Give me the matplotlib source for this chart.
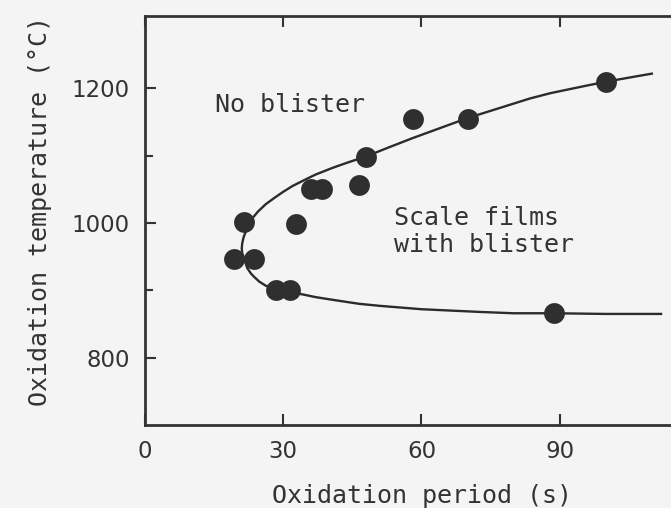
import matplotlib.pyplot as plt

# ─────────────────────────────────────────────────────────────────────────────
# DATA
# ─────────────────────────────────────────────────────────────────────────────
period_s = [19.3, 21.5, 23.7, 28.5, 31.5, 32.8, 36.0, 38.5, 46.5, 48.0, 58.1, 70.1, 88.8, 100.1]
temp_c   = [947, 1002, 947, 900, 900, 999, 1051, 1051, 1056, 1098, 1155, 1155, 866, 1210]

# boundary line: upper branch (right -> nose) then lower branch (nose -> right)
boundary_x = [110, 100, 95, 88, 83.5, 77, 70, 64, 58, 52, 48, 44, 40.7, 37, 34.9, 32,
              29.9, 28, 26.2, 24.5, 23.3, 22.4, 21.9, 21.4, 21.1, 21.0,
              21.1, 21.4, 21.8, 22.2, 23.0, 23.7, 24.8, 26.2, 28, 29.9, 33.5, 37,
              40.7, 46.5, 51, 60, 72.6, 80, 88.8, 100, 112]
boundary_y = [1222, 1210, 1203, 1193, 1185, 1171, 1156, 1141, 1126, 1110, 1099, 1090, 1082,
              1072, 1065, 1055, 1046, 1037, 1028, 1017, 1007, 996, 988, 979, 970, 962,
              955, 950, 941, 933, 925, 920, 913, 907, 903, 900, 895, 890,
              886, 880, 877, 872, 868, 866, 866, 865, 865]

x_ticks = [0, 30, 60, 90]
y_ticks = [800, 1000, 1200]
y_minor = [900, 1100]

BG    = "#f4f4f4"
INK   = "#333333"
MONO  = "DejaVu Sans Mono"

fig = plt.figure(figsize=(6.71, 5.08), dpi=100, facecolor=BG)
# axes run past the right edge of the picture, like the cropped scan
ax = fig.add_axes([0.2161, 0.1634, 0.824, 0.8056], facecolor=BG)

ax.plot(boundary_x, boundary_y, color="#2b2b2b", lw=1.7, zorder=2)
ax.plot(period_s, temp_c, "o", ms=15, color="#2f2f2f", mec="none", zorder=3)

ax.set_xlim(0, 120)
ax.set_ylim(700, 1308)
ax.set_xticks(x_ticks)
ax.set_yticks(y_ticks)
ax.set_yticks(y_minor, minor=True)

ax.tick_params(direction="in", top=True, right=False, length=8, width=1.5,
               colors=INK, labelsize=16.5, pad=11)
ax.tick_params(which="minor", direction="in", length=6, width=1.5, colors=INK)
for s in ax.spines.values():
    s.set_linewidth(2)
    s.set_color(INK)
ax.spines["right"].set_visible(False)

ax.text(15.2, 1175, "No blister", fontsize=18, family=MONO, color=INK, va="center")
ax.text(54.1, 1007, "Scale films", fontsize=18, family=MONO, color=INK, va="center")
ax.text(54.1, 967, "with blister", fontsize=18, family=MONO, color=INK, va="center")

fig.text(0.629, 0.024, "Oxidation period (s)", fontsize=18, family=MONO, color=INK,
         ha="center", va="center")
fig.text(0.060, 0.585, "Oxidation temperature (°C)", fontsize=18, family=MONO, color=INK,
         ha="center", va="center", rotation=90)

plt.savefig("out.png", dpi=100, facecolor=BG)
plt.close()
